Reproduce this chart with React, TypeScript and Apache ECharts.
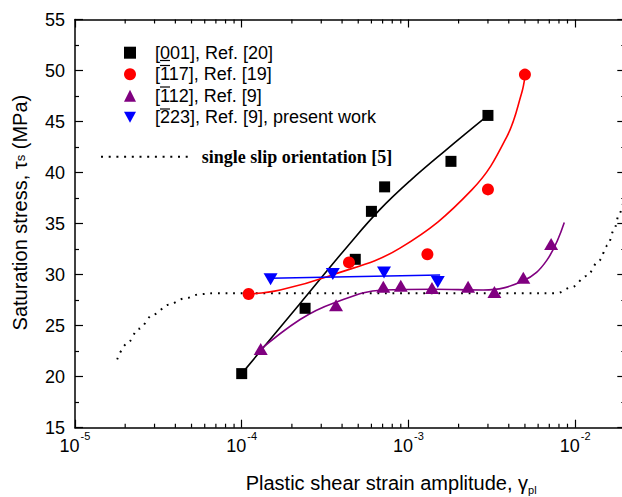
import { useEffect, useRef } from 'react';
import * as echarts from 'echarts';

const FONT = '"Liberation Sans", Arial, Helvetica, sans-serif';
const SERIF = '"Liberation Serif", "Times New Roman", serif';

const legendNames = [
  '[001], Ref. [20]',
  '[117], Ref. [19]',
  '[112], Ref. [9]',
  '[223], Ref. [9], present work',
];
const slipName = 'single slip orientation [5]';

const squares001 = [
  [1.0e-4, 20.3], [2.4e-4, 26.7], [4.8e-4, 31.5], [6.0e-4, 36.2],
  [7.2e-4, 38.6], [1.8e-3, 41.1], [3.0e-3, 45.6],
];
const fit001 = [
  [1.0e-4, 20.3], [2.24e-4, 27.18], [4.46e-4, 33.06], [6.76e-4, 36.39],
  [1.022e-3, 39.19], [1.658e-3, 42.13], [3.0e-3, 45.6],
];
const circles117 = [
  [1.1e-4, 28.1], [4.4e-4, 31.2], [1.3e-3, 32.0], [3.0e-3, 38.35], [5.0e-3, 49.6],
];
const fit117 = [
  [1.1e-4, 28.1], [1.7e-4, 28.5], [3.39e-4, 29.9], [8.9e-4, 32.6],
  [2.4e-3, 38.3], [3.89e-3, 43.5], [4.78e-3, 47.8], [5.0e-3, 49.4],
];
const triangles112 = [
  [1.3e-4, 22.7], [3.68e-4, 27.0], [7.07e-4, 28.8], [9.0e-4, 28.9], [1.385e-3, 28.7],
  [2.28e-3, 28.8], [3.28e-3, 28.3], [4.89e-3, 29.7], [7.18e-3, 33.0],
];
const fit112 = [
  [1.24e-4, 22.4], [2.24e-4, 25.6], [3.54e-4, 27.2], [7.07e-4, 28.5],
  [1.41e-3, 28.57], [2.81e-3, 28.5], [4.89e-3, 29.4], [6.76e-3, 31.4], [8.61e-3, 35.1],
];
const triangles223 = [
  [1.49e-4, 29.55], [3.52e-4, 30.07], [7.14e-4, 30.2], [1.5e-3, 29.28],
];
const fit223 = [[1.48e-4, 29.65], [1.55e-3, 29.97]];
const singleSlip = [
  [1.79e-5, 21.7], [2.04e-5, 23.2], [2.42e-5, 24.7], [2.95e-5, 26.1],
  [3.66e-5, 27.06], [4.52e-5, 27.65], [5.62e-5, 28.08], [6.82e-5, 28.18],
  [2.0e-4, 28.18], [1.0e-3, 28.18], [5.0e-3, 28.18], [7.75e-3, 28.18],
  [9.54e-3, 28.76], [1.175e-2, 29.87], [1.39e-2, 31.37], [1.57e-2, 32.88],
  [1.71e-2, 34.38], [1.84e-2, 35.95], [1.94e-2, 37.0],
];
const minorTickValues = [
  2e-5, 3e-5, 4e-5, 5e-5, 6e-5, 7e-5, 8e-5, 9e-5,
  2e-4, 3e-4, 4e-4, 5e-4, 6e-4, 7e-4, 8e-4, 9e-4,
  2e-3, 3e-3, 4e-3, 5e-3, 6e-3, 7e-3, 8e-3, 9e-3,
  2e-2,
];

// legend icon for the dotted "single slip" line: a row of small dots
const DOTTED_ICON =
  'path://M0,0h2v2h-2zM7.7,0h2v2h-2zM15.4,0h2v2h-2zM23.1,0h2v2h-2zM30.8,0h2v2h-2zM38.5,0h2v2h-2z' +
  'M46.2,0h2v2h-2zM53.9,0h2v2h-2zM61.6,0h2v2h-2zM69.3,0h2v2h-2zM77,0h2v2h-2zM84.7,0h2v2h-2z';

const GRID = { left: 75, top: 19.5, width: 550.3, height: 408.2 };

function buildOption() {
  const axisLine = { lineStyle: { color: '#000', width: 1.5 } };
  const tickStyle = { color: '#000', width: 1.2 };
  return {
    animation: false,
    backgroundColor: '#fff',
    textStyle: { fontFamily: FONT },
    grid: { ...GRID, outerBoundsMode: 'none', containLabel: false },
    legend: [
      {
        data: [
          { name: legendNames[0], icon: 'rect' },
          { name: legendNames[1], icon: 'circle' },
          { name: legendNames[2], icon: 'triangle' },
          { name: legendNames[3], icon: 'path://M0,0L12,0L6,11Z' },
        ],
        orient: 'vertical',
        left: 124,
        top: 43.7,
        padding: 0,
        itemWidth: 12,
        itemHeight: 12,
        itemGap: 3.5,
        selectedMode: false,
        textStyle: {
          fontFamily: FONT, fontSize: 18, lineHeight: 18, color: '#000', padding: [0, 0, 0, 14],
        },
      },
      {
        data: [{ name: slipName, icon: DOTTED_ICON, itemStyle: { color: '#000' } }],
        left: 101,
        top: 147.7,
        padding: 0,
        itemWidth: 87,
        itemHeight: 2,
        selectedMode: false,
        textStyle: {
          fontFamily: SERIF, fontSize: 18, lineHeight: 18, fontWeight: 'bold', color: '#000',
          padding: [0, 0, 0, 9],
        },
      },
    ],
    xAxis: [
      {
        type: 'log',
        logBase: 10,
        min: 1e-5,
        max: 0.02,
        position: 'bottom',
        axisLine,
        axisTick: { inside: true, length: 8, lineStyle: tickStyle },
        splitLine: { show: false },
        axisLabel: {
          margin: 3,
          showMaxLabel: false,
          formatter: (v: number) => `{b|10}{s|${Math.round(Math.log10(v))}}`,
          rich: {
            b: { fontSize: 18, fontFamily: FONT, color: '#000', lineHeight: 24, verticalAlign: 'bottom' },
            s: { fontSize: 11, fontFamily: FONT, color: '#000', lineHeight: 24, verticalAlign: 'top', padding: [0, 0, 0, 1] },
          },
        },
        name: '{a|Plastic shear strain amplitude, γ}{s|pl}',
        nameLocation: 'middle',
        nameGap: 42,
        nameTextStyle: {
          padding: [0, 0, 0, 82],
          rich: {
            a: { fontSize: 20, fontFamily: FONT, color: '#000', lineHeight: 26, verticalAlign: 'middle' },
            s: { fontSize: 11, fontFamily: FONT, color: '#000', lineHeight: 26, verticalAlign: 'bottom' },
          },
        },
      },
      {
        type: 'log',
        logBase: 10,
        min: 1e-5,
        max: 0.02,
        position: 'top',
        axisLine,
        axisTick: { inside: true, length: 8, lineStyle: tickStyle },
        axisLabel: { show: false },
        splitLine: { show: false },
      },
    ],
    yAxis: [
      {
        type: 'value',
        min: 15,
        max: 55,
        interval: 5,
        position: 'left',
        axisLine: { show: true, ...axisLine },
        axisTick: { inside: true, length: 8, lineStyle: tickStyle },
        minorTick: { show: true, splitNumber: 2, length: 4, lineStyle: tickStyle },
        splitLine: { show: false },
        axisLabel: { margin: 10, fontSize: 18, fontFamily: FONT, color: '#000' },
        name: '{a|Saturation stress, τ}{s|s}{a| (MPa)}',
        nameLocation: 'middle',
        nameGap: 42,
        nameTextStyle: {
          padding: [0, 0, 0, 22],
          rich: {
            a: { fontSize: 20, fontFamily: FONT, color: '#000', lineHeight: 26, verticalAlign: 'middle' },
            s: { fontSize: 13, fontFamily: FONT, color: '#000', lineHeight: 26, verticalAlign: 'middle' },
          },
        },
      },
      {
        type: 'value',
        min: 15,
        max: 55,
        interval: 5,
        position: 'right',
        axisLine: { show: true, ...axisLine },
        axisTick: { inside: true, length: 8, lineStyle: tickStyle },
        minorTick: { show: true, splitNumber: 2, length: 4, lineStyle: tickStyle },
        axisLabel: { show: false },
        splitLine: { show: false },
      },
    ],
    graphic: [
      // bars in the Miller indices of the legend
      { type: 'line', shape: { x1: 160, y1: 60.5, x2: 170, y2: 60.5 }, style: { stroke: '#000', lineWidth: 1.2 } },
      { type: 'line', shape: { x1: 160, y1: 65.5, x2: 170, y2: 65.5 }, style: { stroke: '#000', lineWidth: 1.2 } },
      { type: 'line', shape: { x1: 160, y1: 87, x2: 170, y2: 87 }, style: { stroke: '#000', lineWidth: 1.2 } },
      { type: 'line', shape: { x1: 160, y1: 109, x2: 170, y2: 109 }, style: { stroke: '#000', lineWidth: 1.2 } },
    ],
    series: [
      {
        type: 'custom',
        name: 'minorTicks',
        data: minorTickValues.map((v) => [v, 15]),
        encode: { x: 0, y: 1 },
        silent: true,
        clip: false,
        renderItem: (params: any, api: any) => {
          const x = api.coord([api.value(0), api.value(1)])[0];
          const cs = params.coordSys;
          const style = { stroke: '#000', lineWidth: 1.2 };
          return {
            type: 'group',
            children: [
              { type: 'line', shape: { x1: x, y1: cs.y + cs.height, x2: x, y2: cs.y + cs.height - 4 }, style },
              { type: 'line', shape: { x1: x, y1: cs.y, x2: x, y2: cs.y + 4 }, style },
            ],
          };
        },
      },
      {
        type: 'line',
        name: slipName,
        data: singleSlip,
        showSymbol: false,
        symbol: 'none',
        smooth: 0.35,
        smoothMonotone: 'x',
        clip: false,
        lineStyle: { color: '#000', width: 2, type: [1.8, 5.8] },
        itemStyle: { color: '#000' },
      },
      {
        type: 'line', name: 'fit001', data: fit001, showSymbol: false, symbol: 'none', smooth: 0.4,
        lineStyle: { color: '#000', width: 1.6 },
      },
      {
        type: 'line', name: 'fit117', data: fit117, showSymbol: false, symbol: 'none', smooth: 0.4,
        lineStyle: { color: '#ff0000', width: 1.6 },
      },
      {
        type: 'line', name: 'fit112', data: fit112, showSymbol: false, symbol: 'none', smooth: 0.4,
        lineStyle: { color: '#800080', width: 1.6 },
      },
      {
        type: 'line', name: 'fit223', data: fit223, showSymbol: false, symbol: 'none',
        lineStyle: { color: '#0000ff', width: 1.6 },
      },
      {
        type: 'scatter', name: legendNames[0], data: squares001, symbol: 'rect', symbolSize: 11,
        itemStyle: { color: '#000', opacity: 1 }, z: 5,
      },
      {
        type: 'scatter', name: legendNames[1], data: circles117, symbol: 'circle', symbolSize: 12,
        itemStyle: { color: '#ff0000', opacity: 1 }, z: 5,
      },
      {
        type: 'scatter', name: legendNames[2], data: triangles112, symbol: 'triangle', symbolSize: [14, 12],
        itemStyle: { color: '#800080', opacity: 1 }, z: 5,
      },
      {
        type: 'scatter', name: legendNames[3], data: triangles223, symbol: 'triangle', symbolRotate: 180,
        symbolSize: [14, 12], itemStyle: { color: '#0000ff', opacity: 1 }, z: 5,
      },
    ],
  };
}

export default function App() {
  const ref = useRef<HTMLDivElement>(null);
  useEffect(() => {
    if (!ref.current) return;
    const chart = echarts.init(ref.current, null, { renderer: 'svg' });
    chart.setOption(buildOption() as any);
    return () => chart.dispose();
  }, []);
  return (
    <div
      ref={ref}
      style={{ position: 'absolute', left: 0, top: 0, width: 622, height: 497, background: '#fff' }}
    />
  );
}
